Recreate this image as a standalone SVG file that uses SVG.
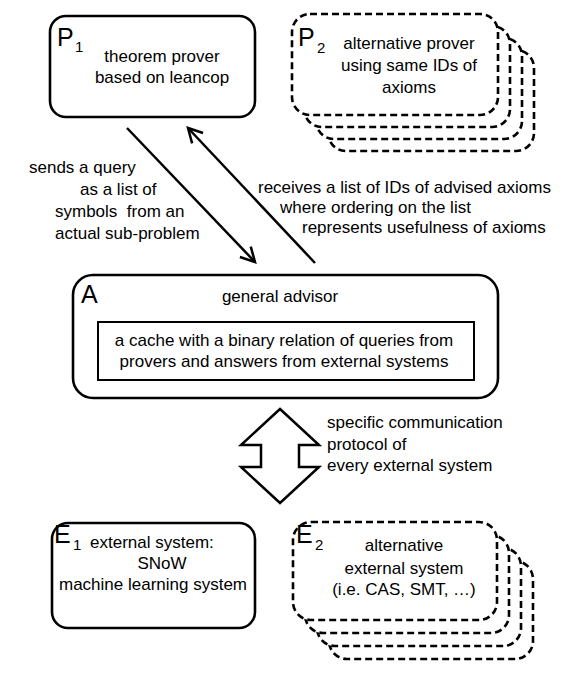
<svg xmlns="http://www.w3.org/2000/svg" width="575" height="676" viewBox="0 0 575 676">
<style>
.box{fill:#fff;stroke:#000;stroke-width:2.6}
.dash{fill:#fff;stroke:#000;stroke-width:2.6;stroke-dasharray:7 4}
.inner{fill:#fff;stroke:#000;stroke-width:2}
text{font-family:"Liberation Sans",Arial,sans-serif;fill:#000}
.t{font-size:17px}
.c{text-anchor:middle}
.big{font-size:25px}
.sub{font-size:15px}
.conn{stroke:#000;stroke-width:2.5;fill:none}
</style>
<defs>
<marker id="ah" markerUnits="userSpaceOnUse" markerWidth="24" markerHeight="24" viewBox="-18 -12 24 24" refX="0" refY="0" orient="auto">
<path d="M-14,-7.5 L0,0 L-14,7.5" fill="none" stroke="#000" stroke-width="2.5"/>
</marker>
</defs>
<rect width="575" height="676" fill="#fff"/>

<g id="P1">
<rect class="box" x="50" y="16" width="205" height="101" rx="16"/>
<text class="big" x="57" y="46">P</text>
<text class="sub" x="75" y="52">1</text>
<text class="t c" x="162" y="62">theorem prover</text>
<text class="t c" x="162" y="83">based on leancop</text>
</g>

<g id="P2">
<rect class="dash" x="328" y="50" width="206" height="101" rx="18"/>
<rect class="dash" x="316" y="38" width="206" height="101" rx="18"/>
<rect class="dash" x="304" y="26" width="206" height="101" rx="18"/>
<rect class="dash" x="292" y="14" width="206" height="101" rx="18"/>
<text class="big" x="298" y="46">P</text>
<text class="sub" x="317" y="53">2</text>
<text class="t c" x="409" y="49">alternative prover</text>
<text class="t c" x="409" y="71">using same IDs of</text>
<text class="t c" x="409" y="93">axioms</text>
</g>

<g id="A">
<rect class="box" x="73" y="275" width="425" height="123" rx="20"/>
<text class="big" x="81" y="303">A</text>
<text class="t c" x="280" y="302">general advisor</text>
<rect class="inner" x="98" y="322" width="376" height="58"/>
<text class="t c" x="284" y="346">a cache with a binary relation of queries from</text>
<text class="t c" x="284" y="367">provers and answers from external systems</text>
</g>

<g id="E1">
<rect class="box" x="52" y="523" width="203" height="105" rx="16"/>
<text class="big" x="54" y="543">E</text>
<text class="sub" x="73" y="550">1</text>
<text class="t" x="90" y="548">external system:</text>
<text class="t c" x="162" y="569">SNoW</text>
<text class="t c" x="153" y="590">machine learning system</text>
</g>

<g id="E2">
<rect class="dash" x="329" y="561" width="204" height="98" rx="18"/>
<rect class="dash" x="317" y="548" width="204" height="98" rx="18"/>
<rect class="dash" x="305" y="535" width="204" height="98" rx="18"/>
<rect class="dash" x="293" y="522" width="204" height="98" rx="18"/>
<text class="big" x="296" y="543">E</text>
<text class="sub" x="315" y="550">2</text>
<text class="t c" x="404" y="551">alternative</text>
<text class="t c" x="404" y="574">external system</text>
<text class="t c" x="404" y="595">(i.e. CAS, SMT, …)</text>
</g>

<g id="connectors">
<line class="conn" x1="127" y1="128" x2="255" y2="262" marker-end="url(#ah)"/>
<line class="conn" x1="315" y1="263" x2="188" y2="128" marker-end="url(#ah)"/>
<polygon class="conn" stroke-width="2.8" points="280,409 319,445 299,445 299,467 319,467 280,503 241,467 261,467 261,445 241,445"/>
<text class="t" x="29" y="173">sends a query</text>
<text class="t" x="80" y="195">as a list of</text>
<text class="t" x="55" y="217" xml:space="preserve">symbols  from an</text>
<text class="t" x="55" y="239">actual sub-problem</text>
<text class="t" x="258" y="193">receives a list of IDs of advised axioms</text>
<text class="t" x="280" y="213">where ordering on the list</text>
<text class="t" x="302" y="233">represents usefulness of axioms</text>
<text class="t" x="327" y="428">specific communication</text>
<text class="t" x="327" y="450">protocol of</text>
<text class="t" x="327" y="471">every external system</text>
</g>
</svg>
